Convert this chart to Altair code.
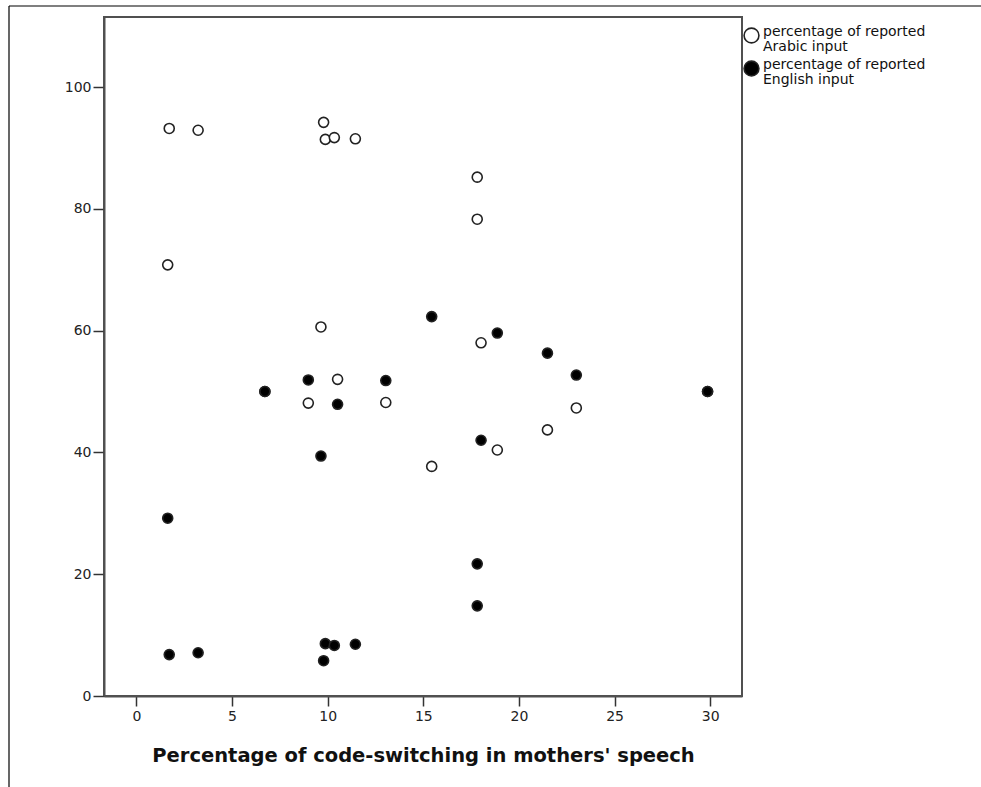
import altair as alt
import pandas as pd

# Share of code-switching in each mother's speech (x) and the reported
# percentage of Arabic and English input for the same family.
code_switching = [1.72, 3.23, 9.79, 9.88, 10.35, 11.45, 17.82, 17.82, 1.64, 9.65,
                  15.44, 18.87, 18.02, 21.49, 23.0, 6.72, 8.99, 10.52, 13.04, 29.86]
arabic_input = [93.2, 92.9, 94.2, 91.4, 91.7, 91.5, 85.2, 78.3, 70.8, 60.6,
                37.7, 40.4, 58.0, 43.7, 47.3, 50.0, 48.1, 52.0, 48.2, 50.0]
english_input = [6.8, 7.1, 5.8, 8.6, 8.3, 8.5, 14.8, 21.7, 29.2, 39.4,
                 62.3, 59.6, 42.0, 56.3, 52.7, 50.0, 51.9, 47.9, 51.8, 50.0]

series_names = ["percentage of reported|Arabic input",
                "percentage of reported|English input"]
x_ticks = [0, 5, 10, 15, 20, 25, 30]
y_ticks = [0, 20, 40, 60, 80, 100]

rows = []
for name, values in zip(series_names, [arabic_input, english_input]):
    for cs, v in zip(code_switching, values):
        rows.append({"cs": cs, "input": v, "series": name})
df = pd.DataFrame(rows)
df["order"] = df["series"].map({series_names[0]: 0, series_names[1]: 1})

FONT = "DejaVu Sans"
FRAME = "#505050"

points = alt.Chart(df).mark_point(
    shape="circle", filled=True, size=100, stroke="#222222", strokeWidth=1.6,
    opacity=1,
).encode(
    x=alt.X("cs:Q",
            scale=alt.Scale(domain=[-1.69, 31.66], nice=False, zero=False),
            axis=alt.Axis(values=x_ticks, title="Percentage of code-switching in mothers' speech",
                          tickSize=10, labelPadding=3, grid=False,
                          titleFontSize=19.5, titleFontWeight="bold", titlePadding=23)),
    y=alt.Y("input:Q",
            scale=alt.Scale(domain=[0, 111.5], nice=False, zero=False),
            axis=alt.Axis(values=y_ticks, title=None, tickSize=11, labelPadding=2,
                          grid=False)),
    fill=alt.Fill("series:N",
                  scale=alt.Scale(domain=series_names, range=["white", "black"]),
                  legend=alt.Legend(title=None, orient="none", legendX=639, legendY=10,
                                    labelExpr="split(datum.label, '|')",
                                    labelBaseline="alphabetic",
                                    symbolSize=220, symbolStrokeColor="#222222",
                                    symbolStrokeWidth=1.6, symbolType="circle",
                                    labelFontSize=14, labelFont=FONT, labelColor="#111111",
                                    labelOffset=3, rowPadding=3, labelLimit=300)),
    order=alt.Order("order:Q"),
)

# Thin outer border along the top and left of the figure.
border_top = alt.Chart(pd.DataFrame({"k": [0]})).mark_rule(
    color="black", strokeWidth=1.2, clip=False
).encode(x=alt.value(-95), x2=alt.value(880), y=alt.value(-11))
border_left = alt.Chart(pd.DataFrame({"k": [0]})).mark_rule(
    color="black", strokeWidth=1.2, clip=False
).encode(x=alt.value(-95), y=alt.value(-11), y2=alt.value(775))

chart = alt.layer(border_top, border_left, points).properties(
    width=638, height=679,
    padding={"left": 104, "top": 17, "right": 239, "bottom": 91},
    autosize=alt.AutoSizeParams(type="none"),
    background="white",
).configure(
    style={"guide-label": {"lineHeight": 15}}
).configure_view(
    stroke=FRAME, strokeWidth=2
).configure_axis(
    labelFont=FONT, titleFont=FONT, labelFontSize=14, labelColor="#222222",
    titleColor="#111111", domainColor=FRAME, domainWidth=2, tickColor="#333333",
    tickWidth=1.5,
)

chart.save("out.html", embed_options={"renderer": "svg", "actions": False})
